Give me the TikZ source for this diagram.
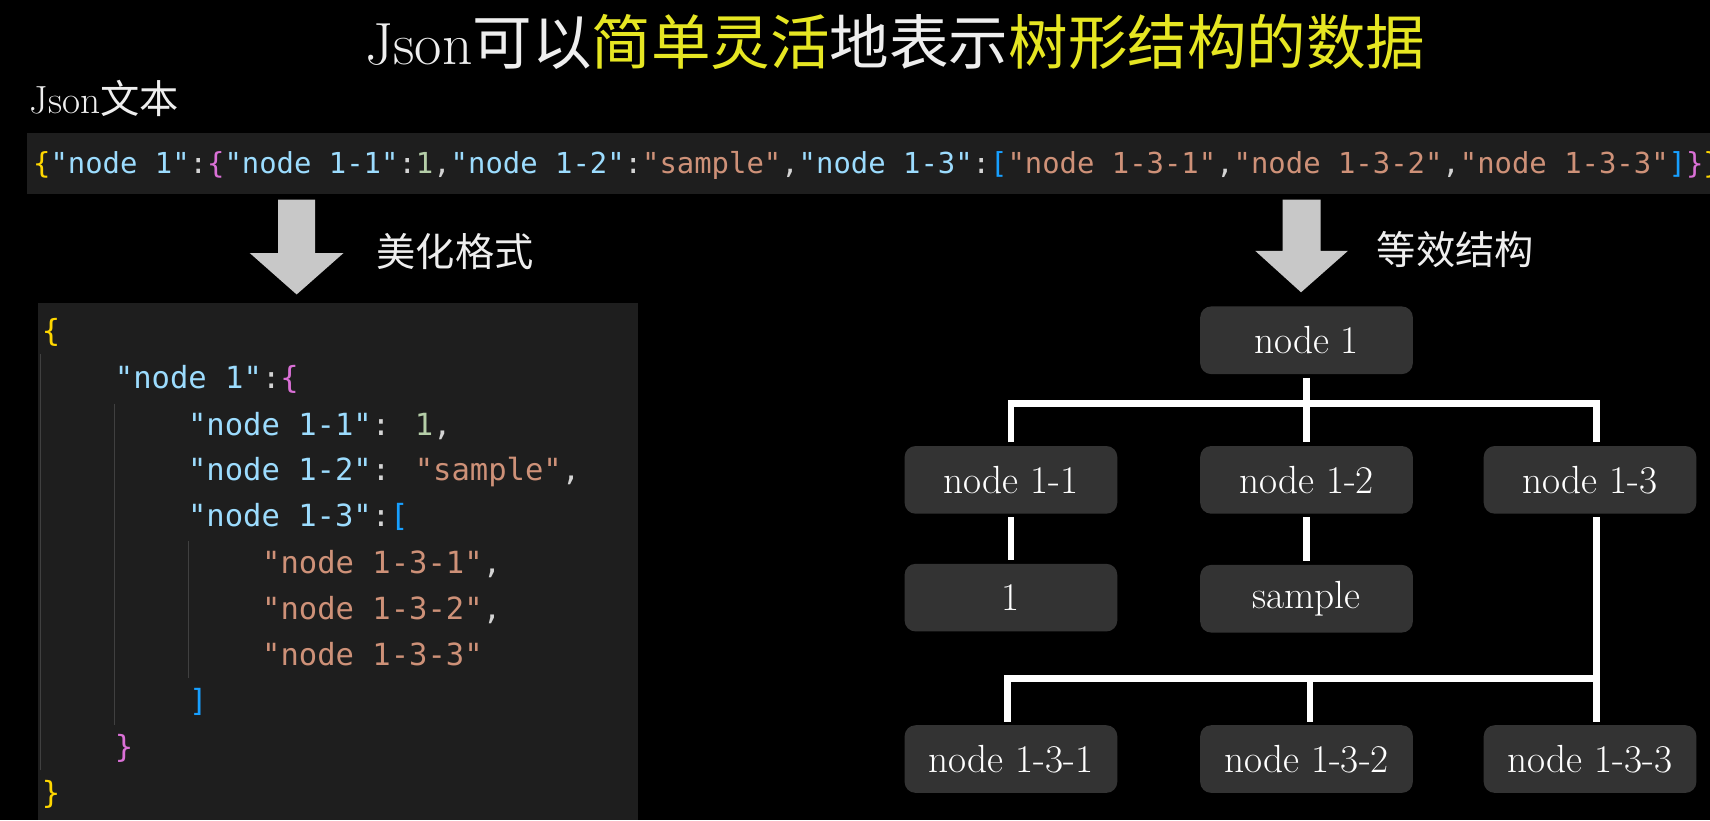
\documentclass[tikz,border=0pt]{standalone}
\usepackage{fontspec}
\newfontfamily\cjk{Noto Sans CJK SC}
\newfontfamily\codefont{DejaVu Sans Mono}

\definecolor{codebg}{HTML}{1E1E1E}
\definecolor{guidegray}{HTML}{404040}
\definecolor{nodegray}{HTML}{333333}
\definecolor{arrowgray}{HTML}{C8C8C8}
\definecolor{titleyellow}{HTML}{E6E622}
\definecolor{titlewhite}{HTML}{EEEEEE}
\definecolor{jgold}{HTML}{FFD700}
\definecolor{jpink}{HTML}{DA70D6}
\definecolor{jblue}{HTML}{179FFF}
\definecolor{jkeycol}{HTML}{9CDCFE}
\definecolor{jstrcol}{HTML}{CE9178}
\definecolor{jnumcol}{HTML}{B5CEA8}
\definecolor{jpunc}{HTML}{D4D4D4}

\newcommand\jkey[1]{\textcolor{jkeycol}{#1}}
\newcommand\jstr[1]{\textcolor{jstrcol}{#1}}
\newcommand\jnum[1]{\textcolor{jnumcol}{#1}}

\begin{document}
\begin{tikzpicture}[
    x = 0.5pt,
    y = -0.5pt,
    treenode/.style = {
      fill = nodegray,
      rounded corners = 5pt,
      minimum width = 97.5pt,
      minimum height = 31pt,
      inner sep = 0pt,
      text = white,
      font = \fontsize{18pt}{20pt}\selectfont\addfontfeatures{LetterSpace=5}
    },
    link/.style = {
      white,
      line width = 3pt,
      shorten < = 1.5pt,
      shorten > = 1.5pt
    },
    codeline/.style = {
      anchor = base west,
      inner sep = 0pt,
      text = jpunc,
      font = \codefont\fontsize{14pt}{16pt}\selectfont
    },
    label/.style = {
      anchor = west,
      inner sep = 0pt,
      text = titlewhite,
      font = \cjk\fontsize{18pt}{20pt}\selectfont
    },
    guide/.style = {
      guidegray,
      line width = 0.6pt
    },
    bigarrow/.style = {
      fill = arrowgray
    }
  ]
  \fill[black] (0,0) rectangle (1568,752);
  \useasboundingbox (0,0) rectangle (1568,752);
  \clip (0,0) rectangle (1568,752);

  % title and labels
  \node[inner sep=0pt, text=titlewhite, font=\cjk\fontsize{27.3pt}{30pt}\selectfont] (title) at (821,38)
    {{\rmfamily\addfontfeatures{LetterSpace=6}Json}可以\textcolor{titleyellow}{简单灵活}地表示\textcolor{titleyellow}{树形结构的数据}};
  \node[label] (jsontext) at (27,90) {{\rmfamily\addfontfeatures{LetterSpace=6}Json}文本};
  \node[label] (pretty) at (345,231) {美化格式};
  \node[label] (equiv) at (1262,229) {等效结构};

  % one-line json
  \fill[codebg] (25,122) rectangle (1568,178);
  \node[codeline, font=\codefont\fontsize{13.25pt}{15pt}\selectfont] (flat) at (30,159)
    {\textcolor{jgold}{\{}\jkey{"node 1"}:\textcolor{jpink}{\{}\jkey{"node 1-1"}:\jnum{1},\jkey{"node 1-2"}:\jstr{"sample"},\jkey{"node 1-3"}:\textcolor{jblue}{[}\jstr{"node 1-3-1"},\jstr{"node 1-3-2"},\jstr{"node 1-3-3"}\textcolor{jblue}{]}\textcolor{jpink}{\}}\textcolor{jgold}{\}}};

  % arrows
  \fill[bigarrow] (255,183) -- (289,183) -- (289,232) -- (315,232) -- (272,270) -- (229,232) -- (255,232) -- cycle;
  \fill[bigarrow] (1176,183) -- (1211,183) -- (1211,230) -- (1236,230) -- (1193,268) -- (1151,230) -- (1176,230) -- cycle;

  % formatted json
  \fill[codebg] (35,278) rectangle (585,752);
  \draw[guide] (37,325) -- (37,706);
  \draw[guide] (105,370) -- (105,665);
  \draw[guide] (173,496) -- (173,622);
  \node[codeline] (c1) at (38,313) {\textcolor{jgold}{\{}};
  \node[codeline] (c2) at (105,356) {\jkey{"node 1"}:\textcolor{jpink}{\{}};
  \node[codeline] (c3) at (172,399) {\jkey{"node 1-1"}: \jnum{1},};
  \node[codeline] (c4) at (172,441) {\jkey{"node 1-2"}: \jstr{"sample"},};
  \node[codeline] (c5) at (172,483) {\jkey{"node 1-3"}:\textcolor{jblue}{[}};
  \node[codeline] (c6) at (240,526) {\jstr{"node 1-3-1"},};
  \node[codeline] (c7) at (240,568) {\jstr{"node 1-3-2"},};
  \node[codeline] (c8) at (240,610) {\jstr{"node 1-3-3"}};
  \node[codeline] (c9) at (173,652) {\textcolor{jblue}{]}};
  \node[codeline] (c10) at (105,695) {\textcolor{jpink}{\}}};
  \node[codeline] (c11) at (38,737) {\textcolor{jgold}{\}}};

  % tree
  \node[treenode] (n1) at (1198,312) {node 1};
  \node[treenode] (n11) at (927,440) {node 1-1};
  \node[treenode] (n12) at (1198,440) {node 1-2};
  \node[treenode] (n13) at (1458,440) {node 1-3};
  \node[treenode] (v11) at (927,548) {1};
  \node[treenode] (v12) at (1198,549) {sample};
  \node[treenode] (n131) at (927,696) {node 1-3-1};
  \node[treenode] (n132) at (1198,696) {node 1-3-2};
  \node[treenode] (n133) at (1458,696) {node 1-3-3};

  \coordinate (bar1) at (0,370);
  \coordinate (bar2) at (0,622);
  \coordinate (trunk) at (1464,0);

  \draw[link, shorten > = 0pt] (n1.south) -- (n1.south |- bar1);
  \draw[link] (n11.north) -- (n11.north |- bar1) -- (trunk |- bar1) -- (trunk |- n13.north);
  \draw[link, shorten < = 0pt] (n12.north |- bar1) -- (n12.north);
  \draw[link] (n11.south) -- (v11.north);
  \draw[link] (n12.south) -- (v12.north);
  \draw[link] (trunk |- n13.south) -- (trunk |- n133.north);
  \draw[link] ([xshift=-1.5pt]n131.north) -- ([xshift=-1.5pt]n131.north |- bar2) -- (trunk |- bar2);
  \draw[link, shorten < = 0pt] ([xshift=1.5pt]n132.north |- bar2) -- ([xshift=1.5pt]n132.north);
\end{tikzpicture}
\end{document}
